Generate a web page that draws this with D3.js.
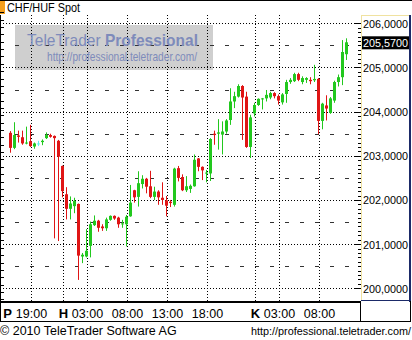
<!DOCTYPE html>
<html>
<head>
<meta charset="utf-8">
<script src="https://cdn.jsdelivr.net/npm/d3@7"></script>
<style>
body { margin: 0; background: #fff; }
svg { display: block; font-family: "Liberation Sans", Arial, sans-serif; }
</style>
</head>
<body>
<svg id="chart" width="412" height="340"></svg>
<script>
// 30 minute bars, CHF/HUF spot (Fri 16:30 .. Tue 11:30)
const opens = [
    203.52, 203.18, 203.46, 203.42, 203.28, 203.33, 203.21, 203.28, 203.31, 203.40,
    203.47, 203.45, 203.34, 202.77, 202.13, 201.80, 201.86, 201.91, 200.72, 200.72,
    200.96, 201.43, 201.53, 201.40, 201.36, 201.55, 201.64, 201.60, 201.45, 201.45,
    201.63, 202.22, 202.07, 202.36, 202.48, 202.31, 202.07, 202.19, 202.05, 201.99,
    201.96, 201.89, 202.72, 202.52, 202.22, 202.25, 202.31, 202.94, 202.75, 202.60,
    202.60, 203.50, 203.50, 203.48, 203.55, 203.81, 204.23, 204.34, 204.58, 204.34,
    203.20, 203.96, 204.15, 204.28, 204.30, 204.32, 204.42, 204.35, 204.21, 204.40,
    204.67, 204.69, 204.85, 204.67, 204.72, 204.72, 204.71, 204.74, 203.79, 204.14,
    203.97, 204.25, 204.67, 204.78, 205.30
];
const highs = [
    203.56, 203.76, 203.57, 203.57, 203.66, 203.70, 203.30, 203.34, 203.37, 203.53,
    203.50, 203.46, 203.36, 202.78, 202.29, 202.08, 202.05, 201.92, 200.80, 201.34,
    201.51, 201.65, 201.55, 201.45, 201.60, 201.65, 201.65, 201.62, 201.55, 201.66,
    202.34, 202.23, 202.65, 202.56, 202.50, 202.66, 202.30, 202.22, 202.40, 202.09,
    202.00, 202.73, 202.77, 202.58, 202.54, 202.35, 203.03, 202.95, 202.76, 202.68,
    203.40, 203.57, 203.83, 203.78, 203.83, 204.53, 204.45, 204.62, 204.60, 204.45,
    203.93, 204.20, 204.30, 204.31, 204.49, 204.45, 204.44, 204.39, 204.42, 204.72,
    204.76, 204.88, 204.88, 204.80, 204.78, 204.78, 205.06, 204.76, 204.20, 204.37,
    204.33, 204.70, 204.84, 205.62, 205.66
];
const lows = [
    203.07, 203.15, 203.30, 203.25, 203.26, 203.20, 203.16, 203.22, 203.24, 203.38,
    203.41, 201.13, 201.07, 202.06, 201.56, 201.56, 201.70, 200.19, 200.57, 200.70,
    200.70, 201.41, 201.28, 201.30, 201.30, 201.53, 201.55, 201.37, 201.37, 200.95,
    201.62, 201.94, 201.85, 202.26, 202.15, 202.04, 202.00, 201.89, 201.89, 201.63,
    201.84, 201.85, 202.42, 202.20, 202.18, 202.16, 202.30, 202.65, 202.45, 202.40,
    202.43, 203.25, 203.14, 203.03, 203.50, 203.70, 204.08, 204.32, 203.36, 203.18,
    202.95, 203.89, 204.13, 204.05, 204.23, 204.28, 204.30, 204.16, 204.16, 204.20,
    204.63, 204.67, 204.69, 204.62, 204.65, 204.62, 204.67, 203.49, 203.60, 203.80,
    203.95, 204.20, 204.57, 204.60, 205.17
];
const closes = [
    203.18, 203.47, 203.43, 203.28, 203.30, 203.22, 203.28, 203.28, 203.34, 203.47,
    203.43, 203.40, 202.98, 202.20, 201.80, 201.92, 201.98, 200.74, 200.76, 200.85,
    201.45, 201.53, 201.37, 201.36, 201.56, 201.64, 201.58, 201.45, 201.47, 201.62,
    201.94, 202.06, 202.38, 202.48, 202.30, 202.07, 202.19, 202.06, 202.00, 201.87,
    201.93, 202.71, 202.50, 202.22, 202.31, 202.32, 202.91, 202.75, 202.67, 202.62,
    203.38, 203.47, 203.53, 203.55, 203.80, 204.23, 204.35, 204.58, 204.32, 203.20,
    203.87, 204.15, 204.29, 204.30, 204.38, 204.42, 204.35, 204.25, 204.39, 204.67,
    204.72, 204.85, 204.72, 204.76, 204.76, 204.69, 204.74, 203.79, 204.18, 204.07,
    204.30, 204.67, 204.78, 205.35, 205.57
];

const priceTicks = [200, 201, 202, 203, 204, 205, 206];
const priceLabels = ["200,0000", "201,0000", "202,0000", "203,0000", "204,0000", "205,0000", "206,0000"];
const halfLevels = [200.5, 201.5, 202.5, 203.5, 204.5, 205.5];

// bar index of each time label
const timeIdx = [5, 19, 29, 39, 49, 67, 77];
const timeLabels = ["19:00", "03:00", "08:00", "13:00", "18:00", "03:00", "08:00"];
const dayIdx = [-1, 13, 61];
const dayLabels = ["P", "H", "K"];
const lastPrice = 205.57;
const lastLabel = "205,5700";

const svg = d3.select("#chart");
const plotLeft = 0, plotRight = 361, plotTop = 15, plotBottom = 301;

const x = d3.scaleLinear().domain([0, 84]).range([10.5, 346.5]);
const y = d3.scaleLinear().domain([200, 206]).range([288.3, 23.3]);
const py = v => Math.round(y(v)) + 0.5;

// title
svg.append("rect").attr("x", 0).attr("y", 0).attr("width", 5).attr("height", 14).attr("fill", "#f5a01e");
svg.append("line").attr("x1", 0).attr("x2", 412).attr("y1", 0.5).attr("y2", 0.5).attr("stroke", "#000");
svg.append("text").attr("x", 7).attr("y", 12).attr("font-size", 12)
    .attr("textLength", 73).attr("lengthAdjust", "spacingAndGlyphs").text("CHF/HUF Spot");

// watermark box
svg.append("rect").attr("x", 15).attr("y", 25).attr("width", 198).attr("height", 45).attr("fill", "#cfcfcf");

// grid
const grid = svg.append("g");
grid.selectAll(".hg").data(priceTicks).enter().append("line")
    .attr("x1", plotLeft).attr("x2", plotRight)
    .attr("y1", d => py(d)).attr("y2", d => py(d))
    .attr("stroke", "#000").attr("stroke-dasharray", "1,2");
grid.selectAll(".hh").data(halfLevels).enter().append("line")
    .attr("x1", 15).attr("x2", 352)
    .attr("y1", d => py(d)).attr("y2", d => py(d))
    .attr("stroke", "#333").attr("stroke-dasharray", "4,11");
const vIdx = timeIdx.concat(dayIdx.filter(d => d >= 0));
grid.selectAll(".vg").data(vIdx).enter().append("line")
    .attr("x1", d => x(d) + 1).attr("x2", d => x(d) + 1)
    .attr("y1", plotTop).attr("y2", plotBottom)
    .attr("stroke", "#000").attr("stroke-dasharray", "1,2");

// watermark text
const wm = svg.append("text").attr("x", 27).attr("y", 46).attr("font-size", 17)
    .attr("fill", "#7e8bbb").attr("textLength", 171).attr("lengthAdjust", "spacingAndGlyphs");
wm.append("tspan").text("TeleTrader ");
wm.append("tspan").attr("font-weight", "bold").text("Professional");
svg.append("text").attr("x", 47).attr("y", 61).attr("font-size", 13)
    .attr("fill", "#7e8bbb").attr("textLength", 150).attr("lengthAdjust", "spacingAndGlyphs")
    .text("http://professional.teletrader.com/");

// candles
const bars = d3.range(opens.length).map(i => ({ i, o: opens[i], h: highs[i], l: lows[i], c: closes[i] }));
const colour = d => d.c > d.o ? "#22c81e" : (d.c < d.o ? "#e01515" : "#5ef2f2");
const candle = svg.append("g").selectAll("g").data(bars).enter().append("g");
candle.append("line")
    .attr("x1", d => x(d.i)).attr("x2", d => x(d.i))
    .attr("y1", d => y(d.h)).attr("y2", d => y(d.l))
    .attr("stroke", colour);
candle.append("rect")
    .attr("x", d => x(d.i) - 1.5).attr("width", 3)
    .attr("y", d => y(Math.max(d.o, d.c)))
    .attr("height", d => Math.max(1, Math.abs(y(d.o) - y(d.c))))
    .attr("fill", colour);

// left edge ticks
svg.append("line").attr("x1", 0.5).attr("x2", 0.5).attr("y1", plotTop).attr("y2", 321).attr("stroke", "#000");
svg.selectAll(".lt").data(d3.range(199.75, 206.4, 1 / 6)).enter().append("line")
    .attr("x1", 0).attr("x2", 4).attr("y1", d => py(d)).attr("y2", d => py(d)).attr("stroke", "#000");

// right axis panel
svg.append("line").attr("x1", 361).attr("x2", 410).attr("y1", 15.5).attr("y2", 15.5).attr("stroke", "#f0e2a0");
svg.append("line").attr("x1", 361.5).attr("x2", 361.5).attr("y1", 15).attr("y2", 301).attr("stroke", "#f0e2a0");
svg.append("rect").attr("x", 409).attr("y", 15).attr("width", 2).attr("height", 287).attr("fill", "#1b2a68");
svg.append("line").attr("x1", 361).attr("x2", 411).attr("y1", 300.5).attr("y2", 300.5).attr("stroke", "#1b2a68");
svg.selectAll(".rt").data(d3.range(200, 206.05, 0.1)).enter().append("line")
    .attr("x1", (d, i) => i % 10 === 0 ? 355 : 358).attr("x2", 361)
    .attr("y1", d => py(d)).attr("y2", d => py(d)).attr("stroke", "#000");
svg.selectAll(".pl").data(priceTicks).enter().append("text")
    .attr("x", 363).attr("y", d => y(d) + 4.5).attr("font-size", 11.5)
    .attr("textLength", 45).attr("lengthAdjust", "spacingAndGlyphs")
    .text((d, i) => priceLabels[i]);
svg.append("rect").attr("x", 362).attr("y", y(lastPrice) - 6).attr("width", 47).attr("height", 13).attr("fill", "#000");
svg.append("text").attr("x", 363).attr("y", y(lastPrice) + 4.5).attr("font-size", 11.5).attr("fill", "#fff")
    .attr("textLength", 45).attr("lengthAdjust", "spacingAndGlyphs").text(lastLabel);

// time axis band
svg.append("rect").attr("x", 0).attr("y", 301).attr("width", 361).attr("height", 2).attr("fill", "#000");
svg.append("line").attr("x1", 0).attr("x2", 411).attr("y1", 321.5).attr("y2", 321.5).attr("stroke", "#000");
svg.append("line").attr("x1", 360.5).attr("x2", 360.5).attr("y1", 301).attr("y2", 321).attr("stroke", "#000");
svg.append("line").attr("x1", 410.5).attr("x2", 410.5).attr("y1", 301).attr("y2", 321).attr("stroke", "#000");
svg.selectAll(".tl").data(timeIdx).enter().append("text")
    .attr("x", d => x(d) + 1).attr("y", 318).attr("font-size", 12.5).attr("text-anchor", "middle")
    .text((d, i) => timeLabels[i]);
svg.selectAll(".dl").data(dayIdx).enter().append("text")
    .attr("x", d => x(d) + 1).attr("y", 318).attr("font-size", 13).attr("font-weight", "bold")
    .attr("text-anchor", "middle").text((d, i) => dayLabels[i]);

// footer
svg.append("text").attr("x", 0).attr("y", 335).attr("font-size", 12.5).text("\u00a9 2010 TeleTrader Software AG");
svg.append("text").attr("x", 251).attr("y", 335).attr("font-size", 10.8)
    .attr("textLength", 160).attr("lengthAdjust", "spacingAndGlyphs")
    .text("http://professional.teletrader.com/");
</script>
</body>
</html>
